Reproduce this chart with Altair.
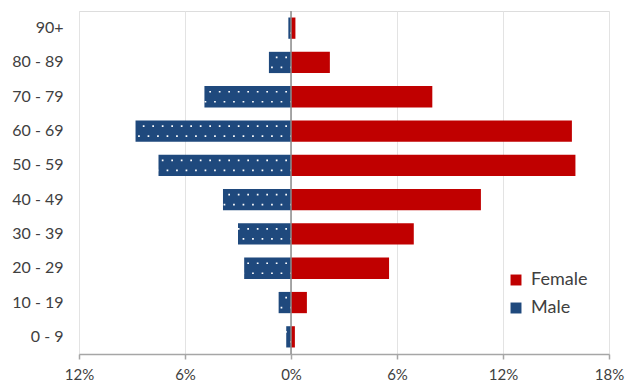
import altair as alt
import pandas as pd

ages = ["0 - 9", "10 - 19", "20 - 29", "30 - 39", "40 - 49",
        "50 - 59", "60 - 69", "70 - 79", "80 - 89", "90+"]
female = [0.22, 0.9, 5.55, 6.95, 10.75, 16.1, 15.9, 8.0, 2.2, 0.25]
male = [0.27, 0.7, 2.65, 3.0, 3.85, 7.5, 8.8, 4.9, 1.25, 0.15]
ticks = [-12, -6, 0, 6, 12, 18]
series = ["Female", "Male"]
colors = ["#C00000", "#1F497D"]

rows = []
for a, f, m in zip(ages, female, male):
    rows.append({"age": a, "sex": "Female", "value": f})
    rows.append({"age": a, "sex": "Male", "value": -m})
df = pd.DataFrame(rows)
order = ages[::-1]

FONT = "Lato"

y_enc = alt.Y("age:N", sort=order,
              scale=alt.Scale(paddingInner=0.38, paddingOuter=0.19),
              axis=alt.Axis(title=None, domain=False, ticks=False, labelPadding=16,
                            labelFontSize=16, labelColor="#404040", labelFont=FONT))
x_scale = alt.Scale(domain=[-12, 18], nice=False, zero=False)

base = alt.Chart(df)

bars = base.mark_bar().encode(
    x=alt.X("value:Q", scale=x_scale,
            axis=alt.Axis(title=None, values=ticks, labelExpr="abs(datum.value) + '%'",
                          grid=True, gridColor="#E3E3E3", gridWidth=1,
                          domainColor="#A6A6A6", domainWidth=1.5,
                          tickColor="#A6A6A6", tickSize=5, tickWidth=1.5,
                          labelFlush=False, labelBound=False,
                          labelPadding=8, labelFontSize=15, labelColor="#404040",
                          labelFont=FONT)),
    y=y_enc,
    color=alt.Color("sex:N", scale=alt.Scale(domain=series, range=colors),
                    legend=alt.Legend(title=None, orient="none", legendX=428, legendY=260,
                                      symbolType="square", symbolSize=120,
                                      symbolStrokeWidth=0,
                                      labelFontSize=18, labelColor="#404040",
                                      labelFont=FONT, rowPadding=10, labelOffset=6)),
)

male_base = base.transform_filter("datum.sex == 'Male'").transform_calculate(zero="0")

dots1 = male_base.mark_rule(color="white", strokeWidth=1.7, strokeDash=[1.7, 7.8],
                            strokeCap="butt", yOffset=-5, strokeDashOffset=-4).encode(
    x=alt.X("zero:Q", scale=x_scale), x2="value:Q", y=alt.Y("age:N", sort=order))
dots2 = male_base.mark_rule(color="white", strokeWidth=1.7, strokeDash=[1.7, 7.8],
                            strokeCap="butt", yOffset=5, strokeDashOffset=-8.7).encode(
    x=alt.X("zero:Q", scale=x_scale), x2="value:Q", y=alt.Y("age:N", sort=order))

zero_line = alt.Chart(pd.DataFrame({"v": [0]})).mark_rule(
    color="#8C8C8C", strokeWidth=1.5).encode(x=alt.X("v:Q", scale=x_scale))

chart = alt.layer(bars, dots1, dots2, zero_line).properties(
    width=530, height=343,
    autosize=alt.AutoSizeParams(type="none"),
    padding={"left": 79, "top": 11, "right": 25, "bottom": 33},
).configure_view(stroke=None).configure(font=FONT)

chart.save("out.html", embed_options={"renderer": "svg", "actions": False})
